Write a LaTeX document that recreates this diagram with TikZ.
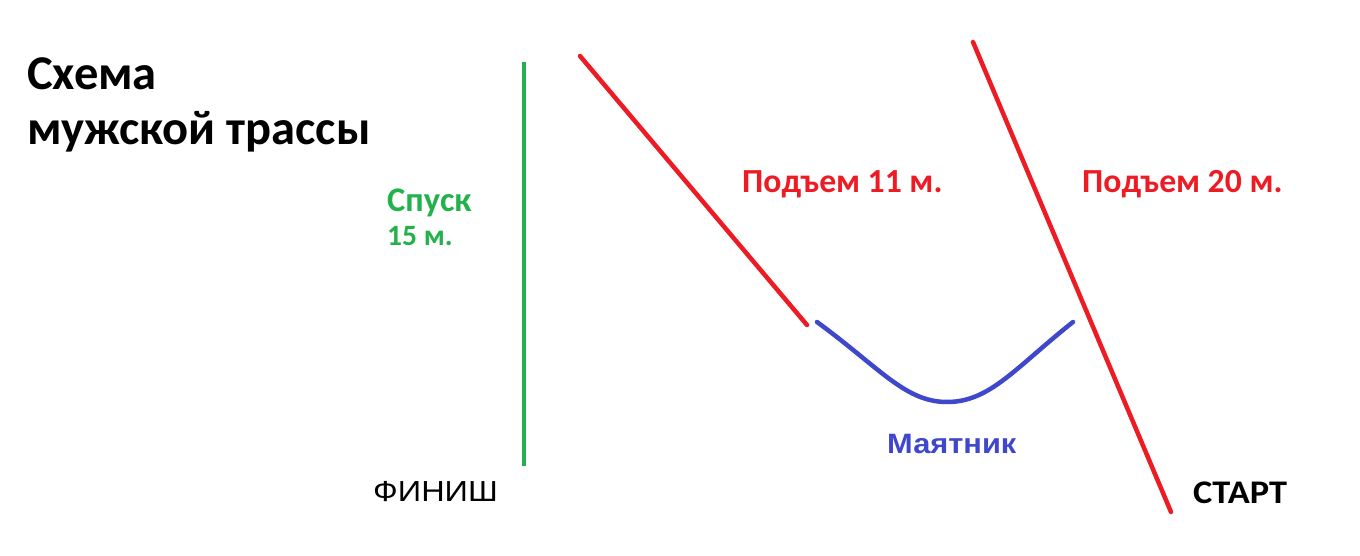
\documentclass[tikz,border=0pt]{standalone}
\usepackage{fontspec}
\setmainfont{Carlito}
\newfontfamily\arialf{Liberation Sans}
\definecolor{pgreen}{HTML}{22B14C}
\definecolor{pred}{HTML}{ED1C24}
\definecolor{pblue}{HTML}{3F48CC}
\begin{document}
\begin{tikzpicture}[x=1pt,y=-1pt,
  lbl/.style={anchor=base west,inner sep=0pt},
  track/.style={line width=4.5pt,line cap=round}]
\useasboundingbox[fill=white] (0,0) rectangle (1360,556);
% title
\node[lbl,font=\fontsize{48.5}{54}\selectfont\bfseries] (t1) at (27,90) {Схема};
\node[lbl,font=\fontsize{48.5}{54}\selectfont\bfseries] (t2) at (27,145) {мужской трассы};
% green descent
\coordinate (g1) at (524,62);
\coordinate (g2) at (524,466);
\draw[track,pgreen,line cap=butt] (g1) -- (g2);
\node[lbl,pgreen,font=\fontsize{34.5}{38}\selectfont\bfseries] (sp) at (387,212) {Спуск};
\node[lbl,pgreen,font=\fontsize{29.5}{33}\selectfont\bfseries] (sp2) at (387,246) {15 м.};
% red climbs
\coordinate (r1a) at (580,56);
\coordinate (r1b) at (807,325);
\draw[track,pred] (r1a) -- (r1b);
\coordinate (r2a) at (973,42);
\coordinate (r2b) at (1171,512);
\draw[track,pred] (r2a) -- (r2b);
\node[lbl,pred,font=\fontsize{33.7}{38}\selectfont\bfseries] (p1) at (742,193) {Подъем 11 м.};
\node[lbl,pred,font=\fontsize{33.7}{38}\selectfont\bfseries] (p2) at (1082,193) {Подъем 20 м.};
% pendulum
\coordinate (b1) at (817,322);
\coordinate (b2) at (947,402);
\coordinate (b3) at (1073,322);
\draw[track,pblue] (b1) .. controls (880,368) and (905,402) .. (b2) .. controls (990,402) and (1015,368) .. (b3);
\node[lbl,pblue,font=\fontsize{28}{32}\selectfont\arialf\bfseries,xscale=1.1,transform shape] (m) at (887,453) {Маятник};
% finish / start
\node[lbl,font=\fontsize{29}{33}\selectfont\arialf,xscale=1.12,transform shape] (f) at (373,501) {ФИНИШ};
\node[lbl,font=\fontsize{33}{37}\selectfont\bfseries,xscale=1.1,transform shape] (s) at (1193,503) {СТАРТ};
\end{tikzpicture}
\end{document}
